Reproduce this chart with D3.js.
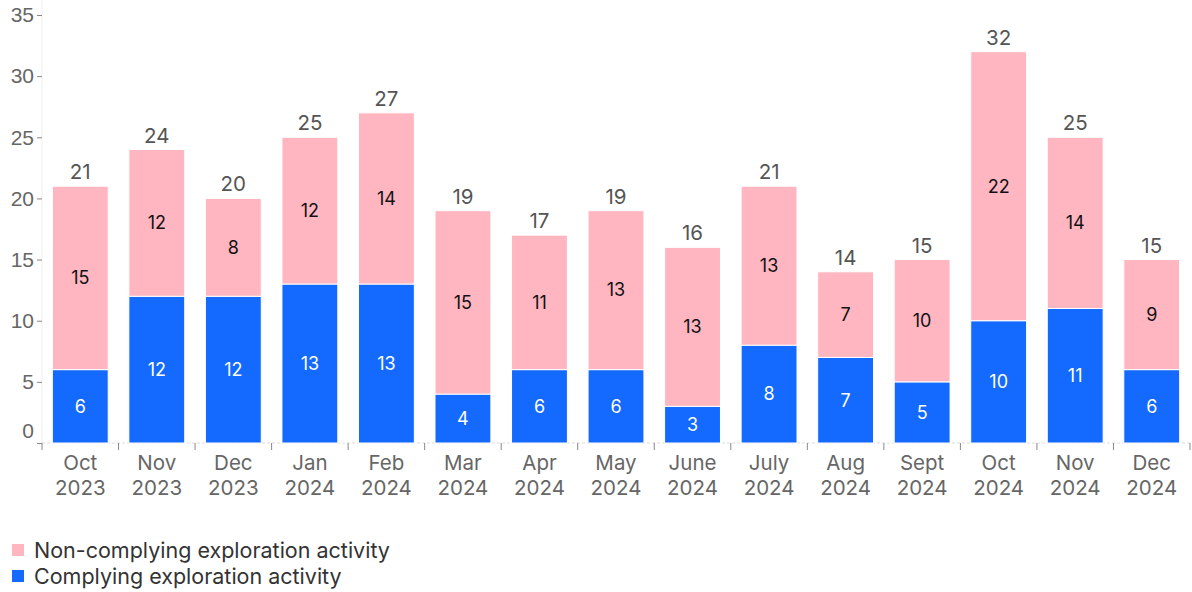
<!DOCTYPE html>
<html>
<head>
<meta charset="utf-8">
<script src="https://cdn.jsdelivr.net/npm/d3@7"></script>
<style>
  body { margin: 0; background: #fff; }
  svg { font-family: "Inter", "Roboto", sans-serif; display: block; }
</style>
</head>
<body>
<div class="chart"></div>
<script>
// data
const months = ["Oct", "Nov", "Dec", "Jan", "Feb", "Mar", "Apr", "May", "June", "July", "Aug", "Sept", "Oct", "Nov", "Dec"];
const years = ["2023", "2023", "2023", "2024", "2024", "2024", "2024", "2024", "2024", "2024", "2024", "2024", "2024", "2024", "2024"];
const complying = [6, 12, 12, 13, 13, 4, 6, 6, 3, 8, 7, 5, 10, 11, 6];
const nonComplying = [15, 12, 8, 12, 14, 15, 11, 13, 13, 13, 7, 10, 22, 14, 9];
const yTicks = [0, 5, 10, 15, 20, 25, 30, 35];

const svgWidth = 1192;
const svgHeight = 592;
const margin = { top: 15, right: 2, bottom: 149, left: 42 };
const width = svgWidth - margin.left - margin.right;
const height = svgHeight - margin.top - margin.bottom;

const blue = "#1469fe";
const pink = "#ffb6c1";

const svg = d3.select(".chart")
  .append("svg")
  .attr("width", svgWidth)
  .attr("height", svgHeight);

const chartGroup = svg.append("g")
  .attr("transform", `translate(${margin.left}, ${margin.top})`);

// scales
const idx = d3.range(months.length);
const xScale = d3.scaleBand()
  .domain(idx)
  .range([0, width])
  .paddingInner(0.27)
  .paddingOuter(0.135);

const yScale = d3.scaleLinear()
  .domain([0, 35])
  .range([height, 0]);

// axis lines
chartGroup.append("line")
  .attr("x1", 0).attr("x2", 0)
  .attr("y1", -15).attr("y2", height)
  .attr("stroke", "#eee");

chartGroup.append("line")
  .attr("x1", 0).attr("x2", width)
  .attr("y1", height).attr("y2", height)
  .attr("stroke", "#ddd")
  .attr("stroke-dasharray", "3,2");

// y axis
const yAxis = chartGroup.append("g")
  .call(d3.axisLeft(yScale).tickValues(yTicks).tickSize(5).tickPadding(3));
yAxis.select(".domain").remove();
yAxis.selectAll(".tick line").attr("stroke", "#888");
yAxis.selectAll(".tick text")
  .attr("fill", "#666")
  .attr("font-size", 21)
  .attr("dy", "0.32em")
  // lift the zero label clear of the x labels
  .attr("y", d => d === 0 ? -12 : 0);

// x ticks at band boundaries
const step = xScale.step();
const boundaries = d3.range(months.length + 1).map(i => i * step);
chartGroup.selectAll(".xtick")
  .data(boundaries)
  .enter()
  .append("line")
  .attr("x1", d => d).attr("x2", d => d)
  .attr("y1", height).attr("y2", height + 7)
  .attr("stroke", "#888");

const xLabels = chartGroup.selectAll(".xlabel")
  .data(idx)
  .enter()
  .append("text")
  .attr("x", d => xScale(d) + xScale.bandwidth() / 2)
  .attr("text-anchor", "middle")
  .attr("fill", "#666")
  .attr("font-size", 20.5);
xLabels.append("tspan")
  .attr("x", d => xScale(d) + xScale.bandwidth() / 2)
  .attr("y", height + 27)
  .text(d => months[d]);
xLabels.append("tspan")
  .attr("x", d => xScale(d) + xScale.bandwidth() / 2)
  .attr("y", height + 52)
  .text(d => years[d]);

// bars
chartGroup.selectAll(".bar-c")
  .data(idx)
  .enter()
  .append("rect")
  .attr("x", d => xScale(d))
  .attr("y", d => yScale(complying[d]))
  .attr("width", xScale.bandwidth())
  .attr("height", d => yScale(0) - yScale(complying[d]))
  .attr("fill", blue)
  .attr("stroke", "#fff")
  .attr("stroke-width", 1);

chartGroup.selectAll(".bar-n")
  .data(idx)
  .enter()
  .append("rect")
  .attr("x", d => xScale(d))
  .attr("y", d => yScale(complying[d] + nonComplying[d]))
  .attr("width", xScale.bandwidth())
  .attr("height", d => yScale(complying[d]) - yScale(complying[d] + nonComplying[d]))
  .attr("fill", pink)
  .attr("stroke", "#fff")
  .attr("stroke-width", 1);

// segment labels
chartGroup.selectAll(".lab-c")
  .data(idx)
  .enter()
  .append("text")
  .attr("x", d => xScale(d) + xScale.bandwidth() / 2)
  .attr("y", d => yScale(complying[d] / 2))
  .attr("dy", "0.35em")
  .attr("text-anchor", "middle")
  .attr("fill", "#fff")
  .attr("font-size", 18)
  .text(d => complying[d]);

chartGroup.selectAll(".lab-n")
  .data(idx)
  .enter()
  .append("text")
  .attr("x", d => xScale(d) + xScale.bandwidth() / 2)
  .attr("y", d => yScale(complying[d] + nonComplying[d] / 2))
  .attr("dy", "0.35em")
  .attr("text-anchor", "middle")
  .attr("fill", "#111")
  .attr("font-size", 18)
  .text(d => nonComplying[d]);

// totals
chartGroup.selectAll(".lab-t")
  .data(idx)
  .enter()
  .append("text")
  .attr("x", d => xScale(d) + xScale.bandwidth() / 2)
  .attr("y", d => yScale(complying[d] + nonComplying[d]) - 7)
  .attr("text-anchor", "middle")
  .attr("fill", "#555")
  .attr("font-size", 20.5)
  .text(d => complying[d] + nonComplying[d]);

// legend
const legendItems = [
  { label: "Non-complying exploration activity", color: pink },
  { label: "Complying exploration activity", color: blue }
];
const legend = svg.append("g").attr("transform", "translate(12, 544)");
const li = legend.selectAll("g")
  .data(legendItems)
  .enter()
  .append("g")
  .attr("transform", (d, i) => `translate(0, ${i * 26})`);
li.append("rect")
  .attr("width", 12).attr("height", 12)
  .attr("fill", d => d.color);
li.append("text")
  .attr("x", 22).attr("y", 6)
  .attr("dy", "0.35em")
  .attr("fill", "#333")
  .attr("font-size", 21.5)
  .text(d => d.label);
</script>
</body>
</html>
